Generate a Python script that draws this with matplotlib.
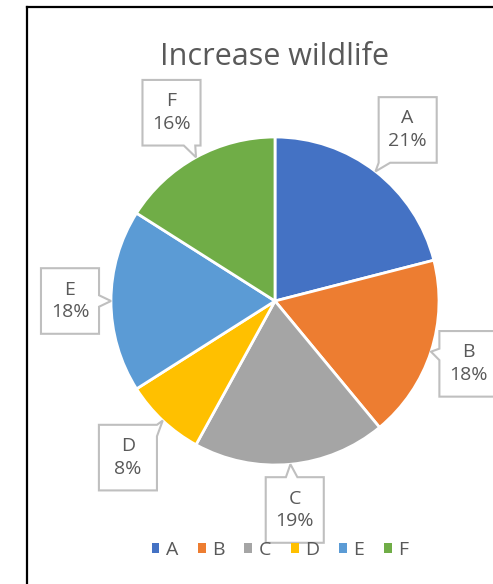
import numpy as np
import matplotlib
matplotlib.use("Agg")
import matplotlib.pyplot as plt
from matplotlib.patches import Polygon, Patch
from matplotlib.lines import Line2D

categories = ["A", "B", "C", "D", "E", "F"]
values = [21, 18, 19, 8, 18, 16]
colors = ["#4472C4", "#ED7D31", "#A5A5A5", "#FFC000", "#5B9BD5", "#70AD47"]
title = "Increase wildlife"

W, H = 493, 584
DPI = 100
cx, cy, R = 275, 301, 164  # pixel layout of the pie

plt.rcParams['font.family'] = ['Open Sans', 'DejaVu Sans']
fig = plt.figure(figsize=(W / DPI, H / DPI), dpi=DPI)
ax = fig.add_axes([0, 0, 1, 1])

wedges, _ = ax.pie(values, colors=colors, startangle=90, counterclock=False,
                   radius=1, center=(0, 0),
                   wedgeprops=dict(edgecolor="white", linewidth=2))
ax.set_aspect('auto')
ax.set_xlim(-cx / R, (W - cx) / R)
ax.set_ylim(-(H - cy) / R, cy / R)
ax.axis('off')

# callout labels
label_dist = [1.32, 1.24, 1.28, 1.31, 1.25, 1.31]
bw, bh = 0.177, 0.20  # half sizes
pw = 0.035
total = sum(values)
for i, w in enumerate(wedges):
    mid = np.deg2rad((w.theta1 + w.theta2) / 2)
    tip = np.array([np.cos(mid), np.sin(mid)]) * 1.0
    c = np.array([np.cos(mid), np.sin(mid)]) * label_dist[i]
    x0, x1, y0, y1 = c[0] - bw, c[0] + bw, c[1] - bh, c[1] + bh
    d = tip - c
    corners = [(x0, y0), (x1, y0), (x1, y1), (x0, y1)]
    if abs(d[0]) / bw > abs(d[1]) / bh:
        t = d * (bw / abs(d[0]))
        py = np.clip(c[1] + t[1], y0 + pw, y1 - pw)
        if d[0] > 0:  # right edge (BR->TR)
            verts = [corners[0], corners[1], (x1, py - pw), tuple(tip), (x1, py + pw),
                     corners[2], corners[3]]
        else:  # left edge (TL->BL)
            verts = [corners[0], corners[1], corners[2], corners[3],
                     (x0, py + pw), tuple(tip), (x0, py - pw)]
    else:
        t = d * (bh / abs(d[1]))
        px = np.clip(c[0] + t[0], x0 + pw, x1 - pw)
        if d[1] < 0:  # bottom edge (BL->BR)
            verts = [corners[0], (px - pw, y0), tuple(tip), (px + pw, y0),
                     corners[1], corners[2], corners[3]]
        else:  # top edge (TR->TL)
            verts = [corners[0], corners[1], corners[2], (px + pw, y1), tuple(tip),
                     (px - pw, y1), corners[3]]
    ax.add_patch(Polygon(verts, closed=True, facecolor="white", edgecolor="#BFBFBF",
                         linewidth=1.5, zorder=5, clip_on=False))
    pct = round(100 * values[i] / total)
    ax.text(c[0], c[1], f"{categories[i]}\n{pct}%", ha="center", va="center",
            fontsize=14, color="#595959", linespacing=1.35, zorder=6)

fig.text(cx / W, 1 - 65 / H, title, ha="center", va="baseline",
         fontsize=22, color="#595959")

handles = [Patch(facecolor=col, edgecolor="none") for col in colors]
fig.legend(handles, categories, loc="center", bbox_to_anchor=(280 / W, 1 - 550 / H),
           ncol=6, frameon=False, fontsize=14, labelcolor="#595959",
           handlelength=0.4, handleheight=0.4, handletextpad=0.35,
           columnspacing=1.0, borderaxespad=0)

# chart border (left and top visible)
fig.add_artist(Line2D([27 / W, 27 / W], [0, 1 - 7 / H], transform=fig.transFigure,
                      color="black", linewidth=1.6))
fig.add_artist(Line2D([27 / W, 1], [1 - 7 / H, 1 - 7 / H], transform=fig.transFigure,
                      color="black", linewidth=1.6))

fig.savefig("out.png", dpi=DPI)
